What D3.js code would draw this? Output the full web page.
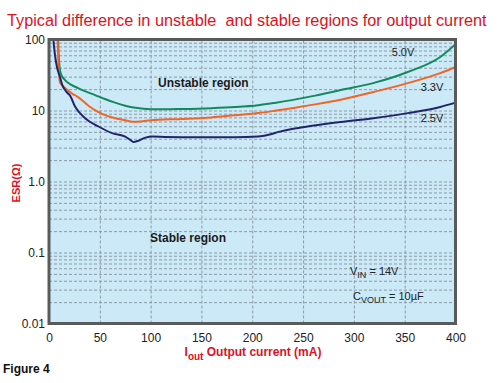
<!DOCTYPE html>
<html>
<head>
<meta charset="utf-8">
<style>
  body { margin: 0; background: #fff; }
  svg { display: block; }
  text { font-family: "Liberation Sans", Arial, sans-serif; }
</style>
</head>
<body>
<div id="container"></div>
<script src="https://cdn.jsdelivr.net/npm/d3@7"></script>
<script>
// values
const xTicks = [0, 50, 100, 150, 200, 250, 300, 350, 400];
const yTicks = [0.01, 0.1, 1, 10, 100];
const yTickLabels = ["0.01", "0.1", "1.0", "10", "100"];

const current50 = [8.8, 9.5, 10.5, 12, 15.8, 22, 28.6, 36, 45.3, 55, 65, 75, 85, 100, 114, 131, 160, 183, 206, 222, 239, 262, 287, 319, 353, 385, 400];
const esr50 = [110, 60, 40, 32, 26.8, 23, 20.7, 18.6, 16.5, 14.5, 12.9, 11.7, 10.9, 10.4, 10.4, 10.5, 10.8, 11.2, 11.9, 12.8, 14.0, 16.2, 19.4, 24.3, 34.8, 56.6, 86];

const current33 = [8.4, 9.2, 10.8, 13, 15.8, 22, 28.6, 37, 45.3, 53.2, 65, 75, 82, 90, 100, 131, 160, 183, 206, 222, 239, 262, 287, 319, 353, 385, 400];
const esr33 = [110, 50, 25.1, 22.5, 20.7, 17.6, 15.4, 12.3, 10.1, 8.8, 7.8, 7.3, 6.95, 7.0, 7.3, 7.6, 8.0, 8.6, 9.2, 9.9, 10.8, 12.2, 14.2, 18.2, 24.3, 33.6, 41];

const current25 = [4.0, 5.9, 8, 10.8, 13, 15.8, 18.5, 20.7, 25.6, 35.5, 48.3, 62.1, 75, 80, 83, 88, 95, 101.5, 114, 147, 183, 206, 216, 226, 239, 259, 287, 319, 353, 385, 400];
const esr25 = [110, 60, 40, 29.6, 23, 19.4, 17.5, 16.2, 11.4, 7.8, 6.0, 4.8, 4.3, 3.85, 3.6, 3.75, 4.15, 4.3, 4.25, 4.2, 4.2, 4.3, 4.55, 5.0, 5.5, 6.1, 6.9, 7.8, 9.18, 11.2, 12.9];

const seriesNames = ["5.0V", "3.3V", "2.5V"];
const seriesColors = ["#138a5c", "#f26522", "#22236e"];

const W = 500, H = 383;
const svg = d3.select("#container").append("svg")
    .attr("width", W)
    .attr("height", H);

const x = d3.scaleLinear().domain([0, 400]).range([49, 455.5]);
const y = d3.scaleLog().domain([0.01, 100]).range([323.5, 39.5]);

// title, squeezed horizontally to the width it has in the figure
const title = svg.append("text")
    .style("white-space", "pre")
    .attr("font-size", 17)
    .attr("fill", "#e0101e")
    .text("Typical difference in unstable  and stable regions for output current");
const tw = title.node().getComputedTextLength();
title.attr("transform", `translate(7,26) scale(${480 / tw},1)`);

// plot background
svg.append("rect")
    .attr("x", x(0)).attr("y", y(100))
    .attr("width", x(400) - x(0))
    .attr("height", y(0.01) - y(100))
    .attr("fill", "#cce9f8");

// minor + major horizontal grid
const hGrid = [];
[0.01, 0.1, 1, 10].forEach(d => {
    for (let k = 1; k < 10; k++) hGrid.push(d * k);
});
svg.append("g")
    .attr("transform", `translate(${x(0)},0)`)
    .call(d3.axisLeft(y).tickValues(hGrid.filter(v => v > 0.01)).tickSize(-(x(400) - x(0))).tickFormat(""))
    .call(g => g.select(".domain").remove())
    .call(g => g.selectAll("line")
        .attr("stroke", "#8d9aa5")
        .attr("stroke-width", 1)
        .attr("stroke-dasharray", "3,2"));

// vertical grid
svg.append("g")
    .attr("transform", `translate(0,${y(0.01)})`)
    .call(d3.axisBottom(x).tickValues(xTicks.slice(1, -1)).tickSize(-(y(0.01) - y(100))).tickFormat(""))
    .call(g => g.select(".domain").remove())
    .call(g => g.selectAll("line")
        .attr("stroke", "#8d9aa5")
        .attr("stroke-width", 1)
        .attr("stroke-dasharray", "3,2"));

// curves
svg.append("clipPath").attr("id", "plotClip")
    .append("rect")
    .attr("x", x(0)).attr("y", y(100))
    .attr("width", x(400) - x(0))
    .attr("height", y(0.01) - y(100));

const line = d3.line()
    .x(d => x(d[0]))
    .y(d => y(d[1]))
    .curve(d3.curveMonotoneX);

const series = [
    d3.zip(current50, esr50),
    d3.zip(current33, esr33),
    d3.zip(current25, esr25)
];

svg.append("g")
    .attr("clip-path", "url(#plotClip)")
    .selectAll("path")
    .data(series)
    .join("path")
    .attr("d", line)
    .attr("fill", "none")
    .attr("stroke", (d, i) => seriesColors[i])
    .attr("stroke-width", 2);

// frame
svg.append("rect")
    .attr("x", x(0)).attr("y", y(100))
    .attr("width", x(400) - x(0))
    .attr("height", y(0.01) - y(100))
    .attr("fill", "none")
    .attr("stroke", "#5a5a5a")
    .attr("stroke-width", 3);

// axes tick labels
svg.append("g")
    .attr("transform", `translate(0,${y(0.01)})`)
    .call(d3.axisBottom(x).tickValues(xTicks).tickSize(0).tickPadding(10))
    .call(g => g.select(".domain").remove())
    .call(g => g.selectAll("text")
        .attr("font-size", 12)
        .attr("font-family", "Liberation Sans, Arial, sans-serif")
        .attr("fill", "#222"));

svg.append("g")
    .attr("transform", `translate(${x(0)},0)`)
    .call(d3.axisLeft(y).tickValues(yTicks).tickSize(0).tickPadding(4)
        .tickFormat((d, i) => yTickLabels[i]))
    .call(g => g.select(".domain").remove())
    .call(g => g.selectAll("text")
        .attr("font-size", 12)
        .attr("font-family", "Liberation Sans, Arial, sans-serif")
        .attr("fill", "#222"));

// series labels
const labelPos = [[403, 56], [432, 91], [432, 122]];
svg.selectAll(".slabel")
    .data(seriesNames)
    .join("text")
    .attr("class", "slabel")
    .attr("x", (d, i) => labelPos[i][0])
    .attr("y", (d, i) => labelPos[i][1])
    .attr("text-anchor", "middle")
    .attr("font-size", 11)
    .attr("fill", "#222")
    .text(d => d);

// region labels
svg.append("text")
    .attr("x", 158).attr("y", 87)
    .attr("font-size", 12).attr("font-weight", "bold").attr("fill", "#1a1a1a")
    .text("Unstable region");
svg.append("text")
    .attr("x", 150).attr("y", 242)
    .attr("font-size", 12).attr("font-weight", "bold").attr("fill", "#1a1a1a")
    .text("Stable region");

// conditions
const vin = svg.append("text")
    .attr("x", 350).attr("y", 275)
    .attr("font-size", 11).attr("fill", "#222");
vin.append("tspan").text("V");
vin.append("tspan").attr("font-size", 9).attr("dy", 3).text("IN");
vin.append("tspan").attr("dy", -3).text(" = 14V");

const cout = svg.append("text")
    .attr("x", 353).attr("y", 300)
    .attr("font-size", 11).attr("fill", "#222");
cout.append("tspan").text("C");
cout.append("tspan").attr("font-size", 9).attr("dy", 3).text("VOUT");
cout.append("tspan").attr("dy", -3).text(" = 10µF");

// axis titles
const xt = svg.append("text")
    .attr("x", 253).attr("y", 356)
    .attr("text-anchor", "middle")
    .attr("font-size", 12).attr("font-weight", "bold").attr("fill", "#e0101e");
xt.append("tspan").text("I");
xt.append("tspan").attr("font-size", 10).attr("dy", 4).text("out");
xt.append("tspan").attr("dy", -4).text(" Output current (mA)");

svg.append("text")
    .attr("transform", "translate(20,183) rotate(-90)")
    .attr("text-anchor", "middle")
    .attr("font-size", 11).attr("font-weight", "bold").attr("fill", "#e0101e")
    .text("ESR(Ω)");

svg.append("text")
    .attr("x", 3).attr("y", 373)
    .attr("font-size", 12).attr("font-weight", "bold").attr("fill", "#111")
    .text("Figure 4");
</script>
</body>
</html>
